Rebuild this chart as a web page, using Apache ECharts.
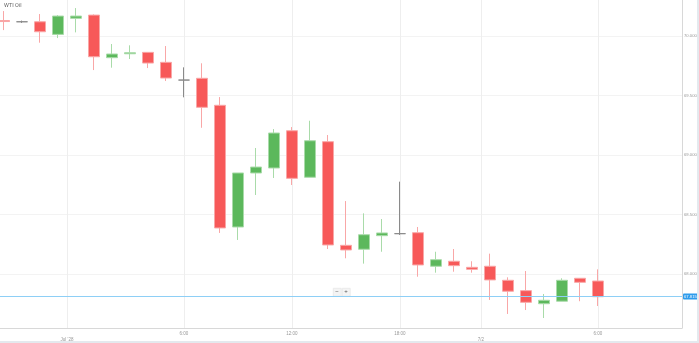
<!DOCTYPE html>
<html>
<head>
<meta charset="utf-8">
<script src="https://cdn.jsdelivr.net/npm/echarts@6/dist/echarts.min.js"></script>
<style>
html, body { margin: 0; padding: 0; background: #fff; }
#wrap { position: relative; width: 699px; height: 343px; }
#chart { width: 699px; height: 343px; }
#frame { position: absolute; left: 0; top: 0; width: 699px; height: 343px; box-sizing: border-box; border-right: 2px solid #e4e9ee; border-bottom: 2px solid #e4e9ee; pointer-events: none; }
</style>
</head>
<body>
<div id="wrap"><div id="chart"></div><div id="frame"></div></div>
<script>
// hourly candles, slot index = hour step
var slots = [0,1,2,3,4,5,6,7,8,9,10,11,12,13,14,15,16,17,18,19,20,21,22,23,24,25,26,27,28,29,30,31,32,33];
var opens  = [70.130,70.120,70.120,70.014,70.149,70.176,69.818,69.851,69.863,69.779,69.630,69.645,69.418,68.395,68.849,68.891,69.204,68.813,69.112,68.241,68.208,68.322,68.339,68.347,68.065,68.107,68.056,68.065,67.947,67.860,67.750,67.771,67.964,67.941];
var closes = [70.122,70.120,70.036,70.168,70.168,69.826,69.849,69.860,69.773,69.647,69.630,69.401,68.387,68.849,68.899,69.185,68.804,69.120,68.244,68.202,68.330,68.345,68.339,68.076,68.120,68.070,68.039,67.950,67.855,67.762,67.779,67.947,67.930,67.809];
var lows   = [70.050,70.110,69.944,69.983,70.031,69.714,69.734,69.807,69.731,69.622,69.485,69.229,68.345,68.286,68.664,68.807,68.748,68.813,68.210,68.132,68.087,68.187,68.328,67.977,68.011,68.019,68.011,67.782,67.664,67.697,67.630,67.771,67.771,67.731];
var highs  = [70.210,70.130,70.185,70.176,70.235,70.182,69.933,69.922,69.866,69.916,69.737,69.771,69.487,68.849,69.059,69.218,69.235,69.288,69.168,68.613,68.510,68.462,68.776,68.395,68.187,68.210,68.107,68.171,67.972,68.025,67.832,67.964,67.964,68.039];

var xTickPos = [3.5, 10, 16, 22, 26.5, 33];
var xTickLabels = ["Jul '28", '6:00', '12:00', '18:00', '7/2', '6:00'];
var yTicks = [68, 68.5, 69, 69.5, 70];
var lastPrice = 67.815;

var myChart = echarts.init(document.getElementById('chart'));

var candles = [];
for (var i = 0; i < slots.length; i++) {
    candles.push([slots[i], opens[i], closes[i], lows[i], highs[i]]);
}

option = {
    animation: false,
    title: {
        text: 'WTI Oil',
        left: 4,
        top: 3,
        padding: 0,
        textStyle: { fontSize: 5.5, fontWeight: 'normal', color: '#666', fontFamily: 'Roboto' }
    },
    grid: { left: 0, right: 17, top: 0, bottom: 15, outerBoundsMode: 'none' },
    xAxis: {
        type: 'value',
        min: -0.22,
        max: 37.67,
        axisLine: { show: true, onZero: false, lineStyle: { color: '#d8d8d8' } },
        axisTick: { show: false, customValues: xTickPos },
        axisLabel: {
            customValues: xTickPos,
            fontSize: 4.5,
            color: '#999',
            margin: 3,
            overflow: 'none',
            hideOverlap: false,
            formatter: function (v) {
                var idx = xTickPos.indexOf(v);
                var t = idx >= 0 ? xTickLabels[idx] : '';
                if (t.indexOf(':') < 0) return '{d|' + t + '}';
                return t;
            },
            rich: { d: { fontSize: 4.5, color: '#999', padding: [6, 0, 0, 0] } }
        },
        splitLine: { show: true, lineStyle: { color: '#eeeeee' } }
    },
    yAxis: {
        type: 'value',
        position: 'right',
        min: 67.546,
        max: 70.303,
        axisLine: { show: true, onZero: false, lineStyle: { color: '#d8d8d8' } },
        axisTick: { show: false, customValues: yTicks },
        axisLabel: {
            customValues: yTicks,
            fontSize: 4.2,
            color: '#999',
            margin: 2,
            overflow: 'none',
            formatter: function (v) { return v.toFixed(3); }
        },
        splitLine: { show: true, lineStyle: { color: '#f3f3f3' } }
    },
    graphic: [{
        type: 'group',
        left: 333,
        top: 288,
        children: [
            { type: 'rect', shape: { x: 0, y: 0, width: 8, height: 8 }, style: { fill: '#f4f4f4', stroke: '#ddd', lineWidth: 0.5 } },
            { type: 'text', x: 2, y: 0.5, style: { text: '−', fontSize: 6, fill: '#555' } },
            { type: 'rect', shape: { x: 9, y: 0, width: 8, height: 8 }, style: { fill: '#f4f4f4', stroke: '#ddd', lineWidth: 0.5 } },
            { type: 'text', x: 11, y: 0.5, style: { text: '+', fontSize: 6, fill: '#555' } }
        ]
    }],
    series: [{
        name: 'WTI Oil',
        type: 'candlestick',
        barWidth: 11,
        encode: { x: 0, y: [1, 2, 3, 4] },
        itemStyle: {
            color: '#5cb85c',
            color0: '#f75959',
            borderColor: '#a9dba9',
            borderColor0: '#f9a7a7',
            borderColorDoji: '#8a8a8a',
            borderWidth: 1
        },
        data: candles,
        markLine: {
            silent: true,
            symbol: 'none',
            lineStyle: { color: '#8ecff6', width: 1, type: 'solid' },
            label: {
                position: 'end',
                formatter: lastPrice.toFixed(3),
                color: '#fff',
                fontSize: 4.2,
                overflow: 'none',
                backgroundColor: '#2f9cec',
                borderRadius: 1,
                padding: [1, 1],
                distance: 1
            },
            data: [{ yAxis: lastPrice }]
        }
    }]
};

myChart.setOption(option);
window.addEventListener('resize', function () {
    myChart.resize();
});
</script>
</body>
</html>
